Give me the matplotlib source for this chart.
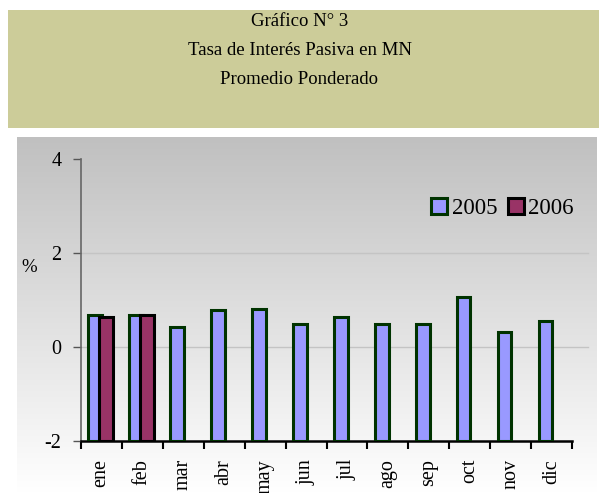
import numpy as np
import matplotlib.pyplot as plt
from matplotlib.patches import Rectangle

meses = ["ene", "feb", "mar", "abr", "may", "jun", "jul", "ago", "sep", "oct", "nov", "dic"]
tasa_2005 = [0.68, 0.68, 0.42, 0.78, 0.82, 0.49, 0.64, 0.50, 0.50, 1.06, 0.33, 0.55]
tasa_2006 = [0.64, 0.68]
titulo = ["Gráfico N° 3", "Tasa de Interés Pasiva en MN", "Promedio Ponderado"]

plt.rcParams['font.family'] = ['Liberation Serif', 'DejaVu Serif']

W, H = 599, 493
fig = plt.figure(figsize=(W / 100, H / 100), dpi=100)

# title box
fig.patches.append(Rectangle((8 / W, 1 - 128 / H), 591 / W, 118 / H,
                             transform=fig.transFigure, facecolor="#CCCC99",
                             edgecolor="none", zorder=0))
for k, line in enumerate(titulo):
    fig.text(0.5, 1 - (21 + 29.5 * k) / H, line, ha="center", va="center", fontsize=13.5)

# gray gradient background of the chart area
bg = fig.add_axes([17 / W, 0, 580 / W, (H - 137) / H], zorder=0)
grad = np.linspace(0.753, 1.0, 256).reshape(-1, 1)
bg.imshow(np.dstack([grad, grad, grad]), aspect="auto", extent=[0, 1, 0, 1])
bg.axis("off")

ax = fig.add_axes([80.7 / W, (H - 441) / H, 491.6 / W, 281.7 / H], zorder=1)
ax.set_facecolor("none")

x = np.arange(len(meses))
w = 0.33
ax.bar(x - 0.15, np.array(tasa_2005) + 2, bottom=-2, width=w, color="#9999FF",
       edgecolor="#003300", linewidth=2.2, label="2005", zorder=3)
x6 = np.arange(len(tasa_2006))
ax.bar(x6 + 0.12, np.array(tasa_2006) + 2, bottom=-2, width=w, color="#993366",
       edgecolor="black", linewidth=2.2, label="2006", zorder=4)

for g in [0, 2]:
    ax.axhline(g, 0, 1.032, color="#C4C4C4", linewidth=1, zorder=1, clip_on=False)

ax.set_xlim(-0.5, len(meses) - 0.5)
ax.set_ylim(-2, 4)
ax.set_yticks([-2, 0, 2, 4])
ax.set_yticklabels(["-2", "0", "2", "4"])
ax.set_xticks(np.arange(len(meses) + 1) - 0.5)
ax.set_xticklabels([])
ax.set_xticks(x, minor=True)
ax.set_xticklabels(meses, minor=True, rotation=90, fontsize=14.5)
ax.tick_params(axis="x", which="major", direction="out", length=6, width=1.5, color="black")
ax.tick_params(axis="x", which="minor", length=0, pad=13)
ax.tick_params(axis="y", direction="out", length=6, width=1, color="#555555",
               labelsize=14.5, pad=8)

for s in ["top", "right"]:
    ax.spines[s].set_visible(False)
ax.spines["left"].set_color("#666666")
ax.spines["left"].set_linewidth(1.2)
ax.spines["bottom"].set_color("black")
ax.spines["bottom"].set_linewidth(1.8)

fig.text(29 / W, 1 - 267 / H, "%", ha="center", va="center", fontsize=13.5)

ax.legend(loc="center right", bbox_to_anchor=(1.022, 4.95 / 6), ncol=2, frameon=False,
          fontsize=16.5, handlelength=0.7, handleheight=0.7, handletextpad=0.2,
          columnspacing=0.45, borderaxespad=0)

fig.savefig("out.png", dpi=100)
